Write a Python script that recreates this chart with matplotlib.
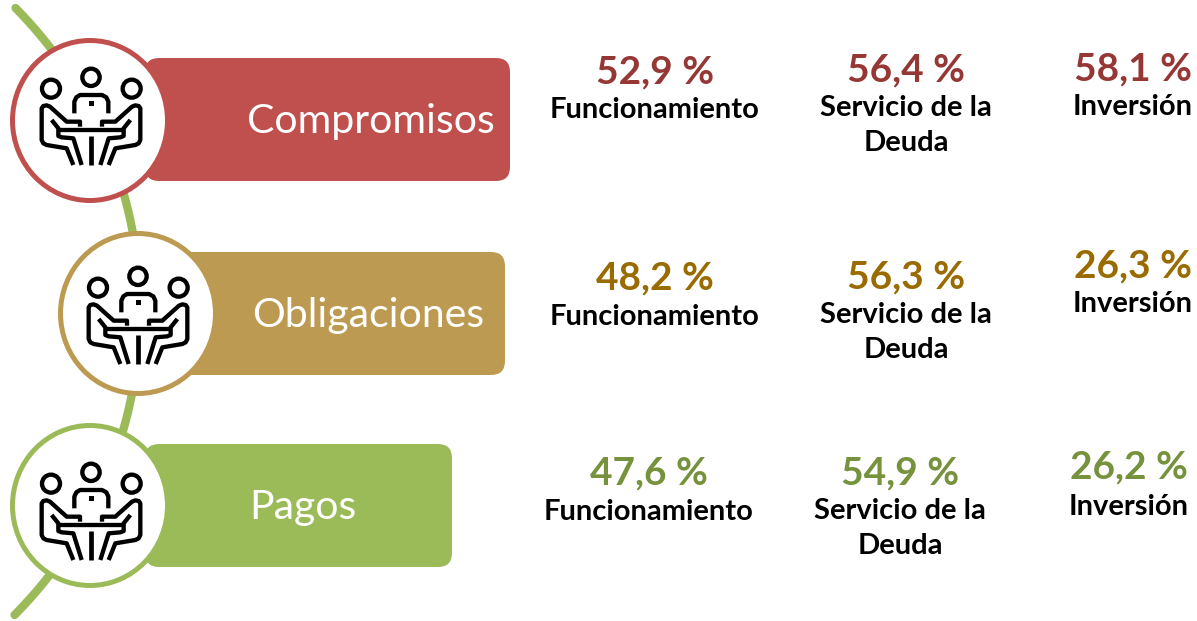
import numpy as np
import matplotlib
matplotlib.use("Agg")
import matplotlib.pyplot as plt
from matplotlib.patches import Circle, Ellipse, FancyBboxPatch, Rectangle

stages = ["Compromisos", "Obligaciones", "Pagos"]
stage_colors = ["#C0504D", "#BD9A52", "#9BBB59"]
value_colors = ["#953735", "#996B00", "#76923C"]
categories = ["Funcionamiento", "Servicio de la\nDeuda", "Inversión"]
values = [["52,9 %", "56,4 %", "58,1 %"],
          ["48,2 %", "56,3 %", "26,3 %"],
          ["47,6 %", "54,9 %", "26,2 %"]]
circle_x = [90, 138, 90]
circle_y = [120.5, 313.5, 505.5]
icon_x = [91, 138, 91]
icon_y = [60, 259, 455]
bar_top = [58, 252, 444]
bar_right = [510, 505, 452]
label_x = [371, 368, 303]
label_y = [121, 315, 507]
col_x = [[655, 906, 1133], [655, 906, 1133], [649, 900, 1129]]
val_y = [[72, 70, 69], [278, 277, 266], [473, 473, 467]]
cat_y = [[110, 108, 107], [317, 315, 304], [512, 511, 507]]

FONT = ["Lato", "DejaVu Sans"]

fig = plt.figure(figsize=(11.97, 6.21), dpi=100)
ax = fig.add_axes([0, 0, 1, 1])
ax.set_xlim(0, 1197)
ax.set_ylim(621, 0)
ax.axis("off")

R, cx, cy = 431, -291, 311
ang = np.linspace(np.arcsin((8 - cy) / R), np.arcsin((615 - cy) / R), 200)
ax.plot(cx + R * np.cos(ang), cy + R * np.sin(ang), color="#9BBB59", lw=6,
        solid_capstyle="round", zorder=1)

# icon outlines in a 3x local grid, x measured from the icon's axis
HEADS = [(0, 52, 26), (-120, 86, 27), (122, 86, 27)]
BODY = ([-50, -50, -44, -33, 33, 46, 52, 52], [160, 125, 112, 105, 105, 112, 125, 160])
HALF_PATHS = [
    ([-33, -33, -73, -123, -133, -143, -148, -148, -143, -133, -73, -53],
     [200, 185, 185, 140, 136, 138, 145, 240, 250, 255, 265, 315]),
    ([-118, -98, -98, -88, -53, -28],
     [180, 205, 228, 232, 235, 315]),
]


def icon(x0, y0):
    lk = dict(color="black", lw=3.1, solid_capstyle="butt", solid_joinstyle="round", zorder=5)
    for dx, dy, r in HEADS:
        ax.add_patch(Circle((x0 + dx / 3, y0 + dy / 3), r / 3, ec="black", fc="white", lw=3.1, zorder=5))
    ax.plot(x0 + np.array(BODY[0]) / 3, y0 + np.array(BODY[1]) / 3, **lk)
    ax.add_patch(Rectangle((x0 - 2.5, y0 + 41), 5, 5, fc="black", ec="none", zorder=5))
    ax.plot([x0 - 33, x0 + 33], [y0 + 69.5, y0 + 69.5], **lk)
    ax.plot([x0, x0], [y0 + 76, y0 + 105], color="black", lw=3.4, solid_capstyle="butt", zorder=5)
    for px, py in HALF_PATHS:
        for s in (1, -1):
            ax.plot(x0 + s * np.array(px) / 3, y0 + np.array(py) / 3, **lk)


for i, name in enumerate(stages):
    ax.add_patch(FancyBboxPatch((159, bar_top[i] + 14), bar_right[i] - 173, 95,
                                boxstyle="round,pad=14,rounding_size=14",
                                fc=stage_colors[i], ec="none", zorder=2))
    ax.add_patch(Ellipse((circle_x[i], circle_y[i]), 155, 160, fc="white",
                         ec=stage_colors[i], lw=3.6, zorder=3))
    icon(icon_x[i], icon_y[i])
    ax.text(label_x[i], label_y[i], name, color="white", fontsize=29.5, family=FONT,
            ha="center", va="center", zorder=4)
    for j, cat in enumerate(categories):
        ax.text(col_x[i][j], val_y[i][j], values[i][j], color=value_colors[i], fontsize=28,
                fontweight="bold", family=FONT, ha="center", va="center")
        ax.text(col_x[i][j], cat_y[i][j] - 13, cat, color="black", fontsize=21,
                fontweight="bold", family=FONT, ha="center", va="top", linespacing=1.43)

fig.savefig("out.png", dpi=100)
